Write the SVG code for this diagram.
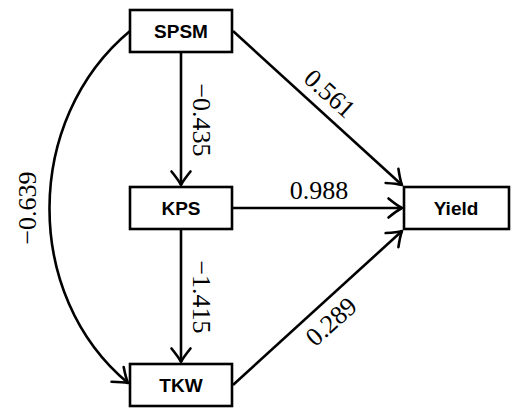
<svg xmlns="http://www.w3.org/2000/svg" width="519" height="417" viewBox="0 0 519 417">
<style>
.box{fill:#fff;stroke:#000;stroke-width:2.6}
.lbl{font-family:"Liberation Sans",Arial,sans-serif;font-weight:bold;font-size:19px;text-anchor:middle}
.num{font-family:"Liberation Serif","Times New Roman",serif;font-size:26px;text-anchor:middle}
.edge{fill:none;stroke:#000;stroke-width:2.6;marker-end:url(#arr)}
</style>
<defs>
<marker id="arr" markerUnits="userSpaceOnUse" markerWidth="24" markerHeight="24" viewBox="-16 -12 18 24" refX="0" refY="0" orient="auto">
<path d="M -13.5 -9.5 Q -4.5 -2.2 0 0 Q -4.5 2.2 -13.5 9.5" fill="none" stroke="#000" stroke-width="2.6" stroke-linecap="round" stroke-linejoin="round"/>
</marker>
</defs>
<g id="connectors">
<path class="edge" d="M 181 52 L 181 185"/>
<path class="edge" d="M 181 229 L 181 362"/>
<path class="edge" d="M 233 208 L 402 208"/>
<path class="edge" d="M 233 31 L 402 185"/>
<path class="edge" d="M 233 385 L 402 231"/>
<path class="edge" d="M 130 31 C 23 120 23 296 128 383"/>
<text class="num" transform="translate(193,120) rotate(90)">−0.435</text>
<text class="num" transform="translate(193,297) rotate(90)">−1.415</text>
<text class="num" transform="translate(36,208) rotate(-90)">−0.639</text>
<text class="num" x="319" y="199">0.988</text>
<text class="num" transform="translate(324,100) rotate(42)">0.561</text>
<text class="num" transform="translate(337,328) rotate(-42)">0.289</text>
</g>
<g id="SPSM"><rect class="box" x="130" y="10" width="102" height="42"/><text class="lbl" x="181" y="38">SPSM</text></g>
<g id="KPS"><rect class="box" x="130" y="187" width="102" height="42"/><text class="lbl" x="181" y="215">KPS</text></g>
<g id="TKW"><rect class="box" x="130" y="364" width="102" height="42"/><text class="lbl" x="181" y="392">TKW</text></g>
<g id="Yield"><rect class="box" x="404" y="187" width="105" height="42"/><text class="lbl" x="456" y="215">Yield</text></g>
</svg>
